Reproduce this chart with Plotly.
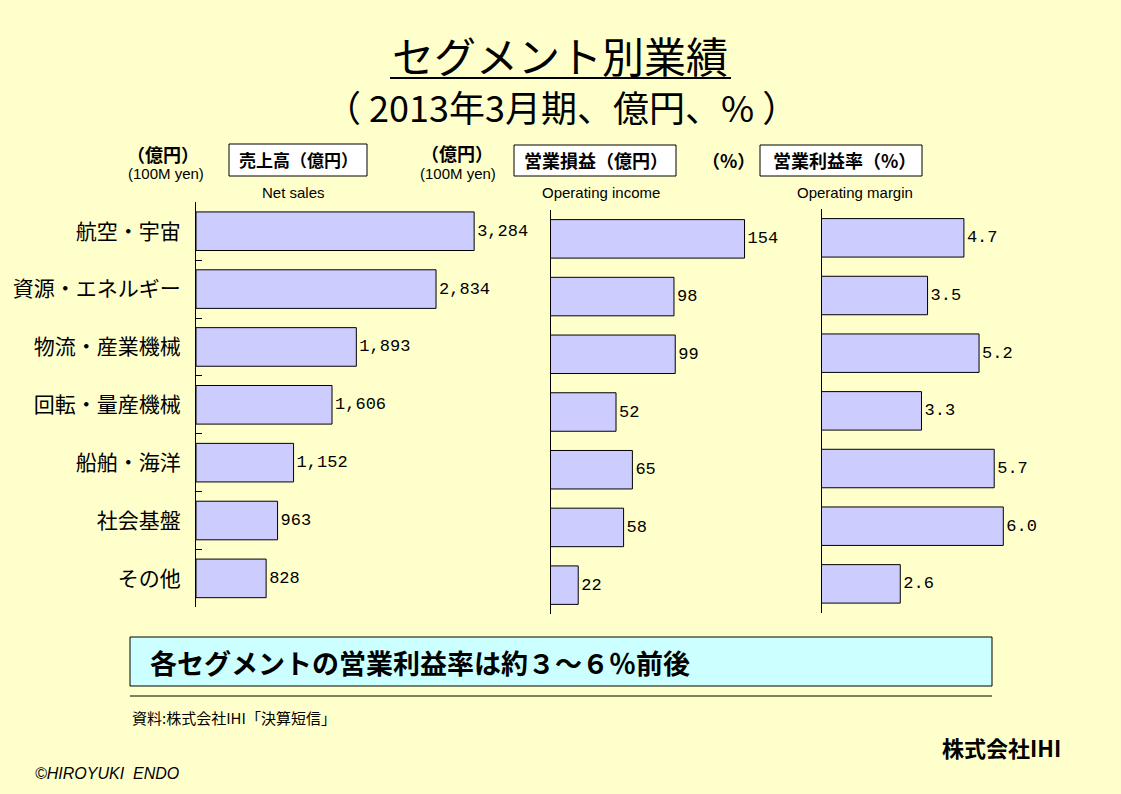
import plotly.graph_objects as go

W, H = 1121, 794

categories = ["航空・宇宙", "資源・エネルギー", "物流・産業機械", "回転・量産機械", "船舶・海洋", "社会基盤", "その他"]
net_sales = [3284, 2834, 1893, 1606, 1152, 963, 828]
operating_income = [154, 98, 99, 52, 65, 58, 22]
operating_margin = [4.7, 3.5, 5.2, 3.3, 5.7, 6.0, 2.6]

BG = "#FFFFCC"
BAR = "#CCCCFF"
CJK = "Noto Sans CJK JP"
NUM = "Liberation Mono"


def px(x):
    return x / W


def py(y):
    return 1 - y / H


fig = go.Figure()

bar_style = dict(orientation="h", marker=dict(color=BAR, line=dict(color="black", width=1)),
                 textposition="outside", cliponaxis=False,
                 textfont=dict(family=NUM, size=17, color="black"), showlegend=False,
                 hoverinfo="skip")

fig.add_trace(go.Bar(x=net_sales, y=categories, texttemplate="%{x:,}", xaxis="x", yaxis="y", **bar_style))
fig.add_trace(go.Bar(x=operating_income, y=categories, texttemplate="%{x}", xaxis="x2", yaxis="y2", **bar_style))
fig.add_trace(go.Bar(x=operating_margin, y=categories, texttemplate="%{x:.1f}", xaxis="x3", yaxis="y3", **bar_style))
# empty helper trace so the boundary-tick axis is drawn
fig.add_trace(go.Scatter(x=[], y=[], xaxis="x", yaxis="y4", showlegend=False, hoverinfo="skip"))

# panel geometry (pixels)
p1_x0, p1_scale, p1_max = 196, 0.0847, 4000
p2_x0, p2_scale, p2_max = 550.5, 1.26, 190
p3_x0, p3_scale, p3_max = 821.5, 30.3, 7


def xax(x0, scale, vmax, anchor):
    return dict(domain=[px(x0), px(x0 + scale * vmax)], range=[0, vmax], visible=False,
                anchor=anchor, fixedrange=True)


def yax(y0, y1, anchor, labels):
    d = dict(domain=[py(y1), py(y0)], type="category", categoryorder="array",
             categoryarray=categories, range=[6.5, -0.5], showline=True, linecolor="black",
             linewidth=1, showgrid=False, zeroline=False, anchor=anchor, fixedrange=True, ticks="")
    if labels:
        d.update(showticklabels=True, tickfont=dict(family=CJK, size=21, color="black"),
                 ticklabelstandoff=10)
    else:
        d.update(showticklabels=False)
    return d


n = len(categories)
boundaries = [i - 0.5 for i in range(n + 1)]

fig.update_layout(
    width=W, height=H, margin=dict(l=0, r=0, t=0, b=0),
    paper_bgcolor=BG, plot_bgcolor="rgba(0,0,0,0)",
    bargap=0.333,
    xaxis=xax(p1_x0, p1_scale, p1_max, "y"),
    xaxis2=xax(p2_x0, p2_scale, p2_max, "y2"),
    xaxis3=xax(p3_x0, p3_scale, p3_max, "y3"),
    yaxis=yax(202.3, 607.3, "x", True),
    yaxis2=yax(210, 614, "x2", False),
    yaxis3=yax(209, 612.7, "x3", False),
    yaxis4=dict(overlaying="y", anchor="x", side="left", type="linear", range=[n - 0.5, -0.5],
                tickmode="array", tickvals=boundaries, ticks="inside", ticklen=6, tickwidth=1,
                tickcolor="black", showticklabels=False, showline=False, showgrid=False,
                zeroline=False, fixedrange=True),
)

shapes = []
annotations = []


def text(x, y, s, size, family=CJK, xanchor="center", bold=False, italic=False):
    if bold:
        s = "<b>" + s + "</b>"
    if italic:
        s = "<i>" + s + "</i>"
    annotations.append(dict(x=px(x), y=py(y), xref="paper", yref="paper", text=s, showarrow=False,
                            xanchor=xanchor, yanchor="middle",
                            font=dict(family=family, size=size, color="black")))


def rect(x0, y0, x1, y1, fill):
    shapes.append(dict(type="rect", xref="paper", yref="paper", x0=px(x0), x1=px(x1), y0=py(y1), y1=py(y0),
                       fillcolor=fill, line=dict(color="black", width=1), layer="below"))


def hline(x0, x1, y, width=1):
    shapes.append(dict(type="line", xref="paper", yref="paper", x0=px(x0), x1=px(x1), y0=py(y), y1=py(y),
                       line=dict(color="black", width=width)))


# Title
text(560, 54, "セグメント別業績", 42)
hline(390, 731, 78, 2)
text(561, 106, "（&nbsp;2013年3月期、億円、%&nbsp;）", 36)

# headers
text(163, 154, "（億円）", 18, bold=True)
text(166, 174, "(100M yen)", 15, family="Liberation Sans")
rect(229, 144, 367, 176, "white")
text(299, 160, "売上高（億円）", 17, bold=True)
text(293, 193, "Net sales", 15, family="Liberation Sans")

text(457, 153, "（億円）", 18, bold=True)
text(458, 173, "(100M yen)", 15, family="Liberation Sans")
rect(514, 145, 676, 176, "white")
text(596, 160, "営業損益（億円）", 18, bold=True)
text(601, 193, "Operating income", 15, family="Liberation Sans")

text(728, 160, "（%）", 18, bold=True)
rect(760, 145, 922, 176, "white")
text(844, 160, "営業利益率（%）", 18, bold=True)
text(855, 193, "Operating margin", 15, family="Liberation Sans")

# summary box
rect(130, 637, 992, 686, "#CCFFFF")
text(148, 662, "各セグメントの営業利益率は約３～６％前後", 27, xanchor="left", bold=True)
hline(130, 992, 696, 1)

text(130, 717, "資料:株式会社IHI「決算短信」", 15, xanchor="left")
text(1001, 747, "株式会社IHI", 22, bold=True)
text(33, 773, "©HIROYUKI&nbsp;&nbsp;ENDO", 16, family="Liberation Sans", xanchor="left", italic=True)

fig.update_layout(shapes=shapes, annotations=annotations)

fig.write_html("out.html", config={"displayModeBar": False, "staticPlot": True},
               post_script="document.body.style.margin='0';")
